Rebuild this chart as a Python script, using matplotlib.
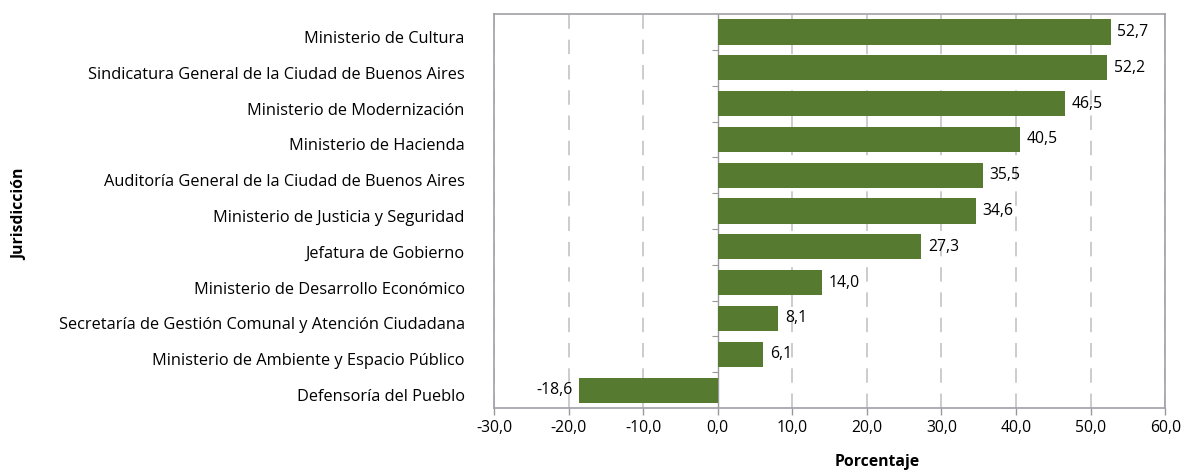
import matplotlib.pyplot as plt
from matplotlib.transforms import ScaledTranslation

plt.rcParams['font.family'] = ['Open Sans', 'DejaVu Sans']

jurisdicciones = [
    'Ministerio de Cultura',
    'Sindicatura General de la Ciudad de Buenos Aires',
    'Ministerio de Modernización',
    'Ministerio de Hacienda',
    'Auditoría General de la Ciudad de Buenos Aires',
    'Ministerio de Justicia y Seguridad',
    'Jefatura de Gobierno',
    'Ministerio de Desarrollo Económico',
    'Secretaría de Gestión Comunal y Atención Ciudadana',
    'Ministerio de Ambiente y Espacio Público',
    'Defensoría del Pueblo',
]
valores = [52.7, 52.2, 46.5, 40.5, 35.5, 34.6, 27.3, 14.0, 8.1, 6.1, -18.6]
xticks = [-30, -20, -10, 0, 10, 20, 30, 40, 50, 60]

fig = plt.figure(figsize=(11.89, 4.70), dpi=100)
ax = fig.add_axes([0.4155, 0.132, 0.5645, 0.838])

pos = list(range(len(valores)))[::-1]
ax.barh(pos, valores, height=0.7, color='#557a30', zorder=3)

for y, v in zip(pos, valores):
    txt = f'{v:.1f}'.replace('.', ',')
    if v >= 0:
        ax.text(v + 0.9, y, txt, va='center', ha='left', fontsize=11.3, zorder=4)
    else:
        ax.text(v - 0.9, y, txt, va='center', ha='right', fontsize=11.3, zorder=4)

ax.set_xlim(-30, 60)
ax.set_ylim(-0.5, len(valores) - 0.5)
ax.set_xticks(xticks)
ax.set_xticklabels([f'{t:.1f}'.replace('.', ',') for t in xticks], fontsize=11.3)
ax.set_yticks(pos)
ax.set_yticklabels(jurisdicciones, fontsize=11.8)
ax.tick_params(axis='y', length=0, pad=21)
ax.tick_params(axis='x', length=5, color='#999999', width=1)

# las etiquetas de categoria quedan un poco mas abajo que el centro de la barra
shift = ScaledTranslation(0, -0.05, fig.dpi_scale_trans)
for lab in ax.get_yticklabels():
    lab.set_transform(lab.get_transform() + shift)

for t in xticks:
    if t != 0:
        ax.axvline(t, color='#c8c8c8', linestyle=(0, (8, 6)), linewidth=1.3, zorder=1)
ax.axvline(0, color='#999999', linewidth=1, zorder=2)

sec = ax.secondary_yaxis(1 / 3)
sec.set_yticks([p + 0.5 for p in pos[1:]])
sec.set_yticklabels([])
sec.tick_params(length=4, color='#999999')
sec.spines['left'].set_visible(False)

for s in ax.spines.values():
    s.set_color('#a0a0a8')
    s.set_linewidth(1.2)

fig.text(0.738, 0.0, 'Porcentaje', fontsize=11.3, fontweight='bold', ha='center', va='bottom')
fig.text(0.017, 0.545, 'Jurisdicción', fontsize=11.3, fontweight='bold', rotation=90,
         ha='center', va='center')

fig.savefig('out.png', dpi=100)
